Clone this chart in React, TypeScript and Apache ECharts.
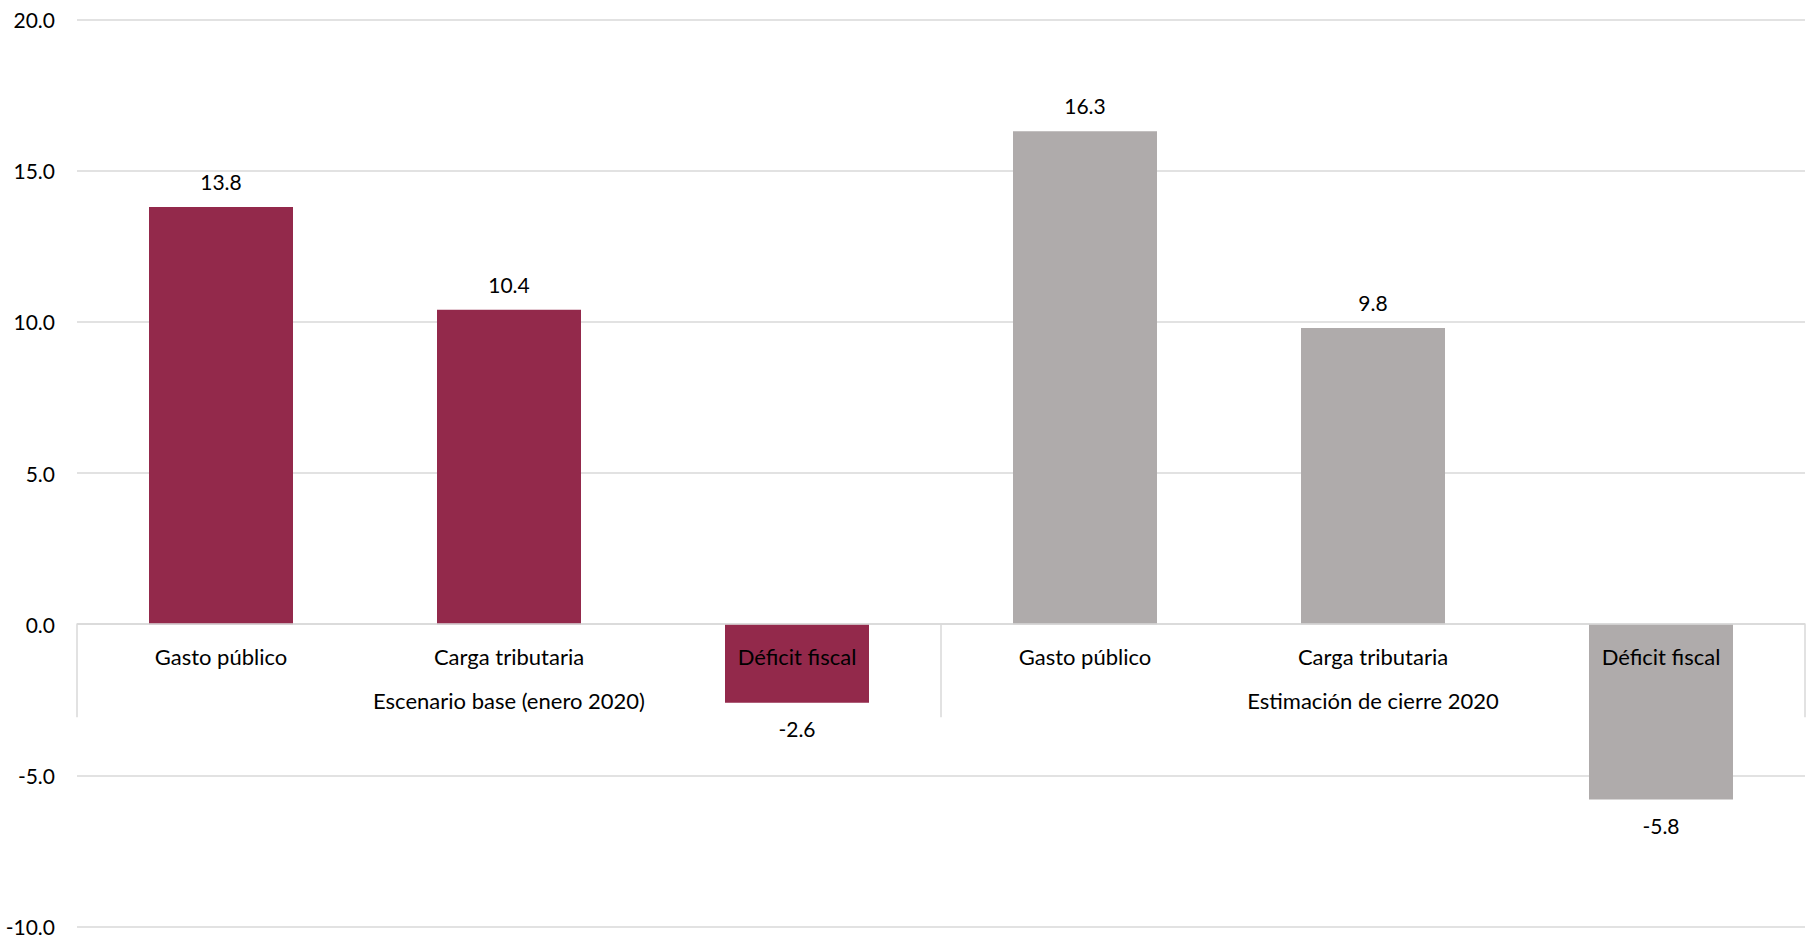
import React, { useEffect, useRef } from "react";
import * as echarts from "echarts";

const categories = ["Gasto público", "Carga tributaria", "Déficit fiscal", "Gasto público", "Carga tributaria", "Déficit fiscal"];
const groups = ["Escenario base (enero 2020)", "Estimación de cierre 2020"];
const values = [13.8, 10.4, -2.6, 16.3, 9.8, -5.8];
const groupOfBar = [0, 0, 0, 1, 1, 1];
const groupColors = ["#93294B", "#AFABAB"];
const yMin = -10;
const yMax = 20;
const yInterval = 5;

const FONT = "Lato, 'Open Sans', sans-serif";
const W = 1811;
const H = 935;
const TOP = 19.5;
const BOTTOM = 8.5;
const LEFT = 77;
const RIGHT = 6;

export default function App() {
  const ref = useRef<HTMLDivElement>(null);
  useEffect(() => {
    if (!ref.current) return;
    const chart = echarts.init(ref.current, null, { renderer: "svg" });
    const plotH = H - TOP - BOTTOM;
    const zeroFromTop = (plotH * (yMax - 0)) / (yMax - yMin);
    chart.setOption({
      animation: false,
      textStyle: { fontFamily: FONT },
      grid: [
        { left: LEFT, right: RIGHT, top: TOP, bottom: BOTTOM, containLabel: false, outerBoundsMode: "none" },
        { left: LEFT, right: RIGHT, top: TOP, height: zeroFromTop, containLabel: false, outerBoundsMode: "none" },
      ],
      xAxis: [
        {
          type: "category",
          gridIndex: 0,
          data: categories,
          show: false,
        },
        {
          type: "category",
          gridIndex: 1,
          data: categories,
          position: "bottom",
          z: 10,
          axisLine: { onZero: false, lineStyle: { color: "#D9D9D9", width: 1.5 } },
          axisTick: { show: false },
          axisLabel: { interval: 0, margin: 21, fontSize: 22, color: "#000", fontFamily: FONT },
        },
        {
          type: "category",
          gridIndex: 1,
          data: groups,
          position: "bottom",
          z: 10,
          axisLine: { show: false, onZero: false },
          axisTick: { show: true, interval: 0, length: 93, lineStyle: { color: "#D9D9D9", width: 1.5 } },
          axisLabel: { interval: 0, margin: 65, fontSize: 22, color: "#000", fontFamily: FONT },
        },
      ],
      yAxis: [
        {
          type: "value",
          gridIndex: 0,
          min: yMin,
          max: yMax,
          interval: yInterval,
          axisLine: { show: false },
          axisTick: { show: false },
          splitLine: { lineStyle: { color: "#D9D9D9", width: 1.5 } },
          axisLabel: {
            margin: 22,
            fontSize: 21,
            color: "#000",
            fontFamily: FONT,
            formatter: (v: number) => v.toFixed(1),
          },
        },
        {
          type: "value",
          gridIndex: 1,
          min: 0,
          max: 1,
          show: false,
          splitLine: { show: false },
        },
      ],
      series: [
        {
          type: "bar",
          xAxisIndex: 0,
          yAxisIndex: 0,
          barWidth: "50%",
          z: 2,
          data: values.map((v, i) => ({
            value: v,
            itemStyle: { color: groupColors[groupOfBar[i]] },
            label: {
              show: true,
              position: v >= 0 ? "top" : "bottom",
              distance: v >= 0 ? 15 : 15,
              formatter: (p: any) => Number(p.value).toFixed(1),
              fontSize: 21,
              color: "#000",
              fontFamily: FONT,
            },
          })),
        },
      ],
    });
    return () => chart.dispose();
  }, []);
  return (
    <div
      ref={ref}
      style={{ position: "fixed", left: 0, top: 0, width: W, height: H, background: "#fff" }}
    />
  );
}
